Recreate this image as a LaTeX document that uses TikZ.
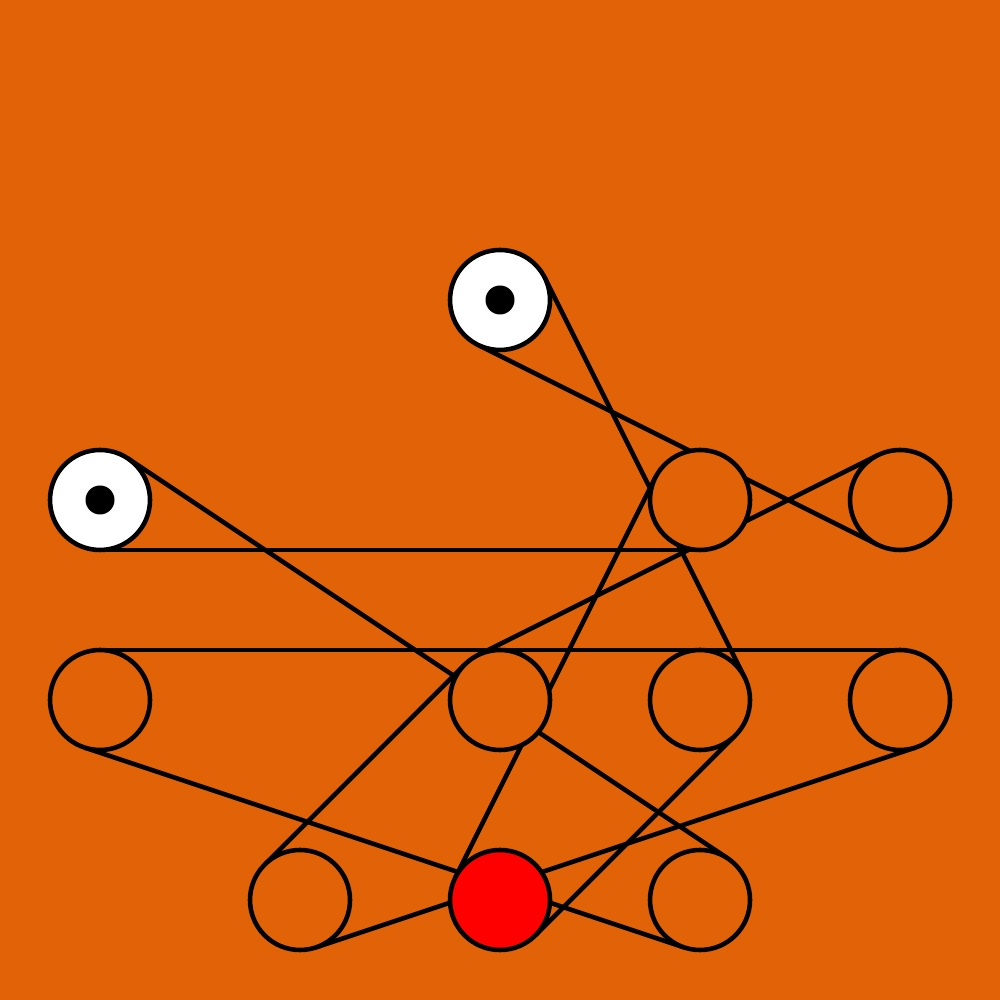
\documentclass[tikz,border=0pt]{standalone}
\usetikzlibrary{calc}
\definecolor{bgorange}{RGB}{226,98,8}
\pgfdeclarelayer{bglayer}
\pgfdeclarelayer{beltlayer}
\pgfsetlayers{bglayer,beltlayer,main}
\tikzset{
  pulley/.style={circle, draw=black, line width=1.3pt, fill=bgorange, minimum size=1cm, inner sep=0pt, outer sep=0pt},
  idler/.style={pulley, fill=white},
  driver/.style={pulley, fill=red},
  hub/.style={circle, fill=black, minimum size=0.29cm, inner sep=0pt, outer sep=0pt},
  belt/.style={draw=black, line width=1.3pt}
}
\begin{document}
\begin{tikzpicture}
\useasboundingbox (0,0) rectangle (10,10);
\begin{pgfonlayer}{bglayer}
  \fill[bgorange] (0,0) rectangle (10,10);
\end{pgfonlayer}
% pulleys
\node[idler] (p1) at (5,7) {};
\node[idler] (p2) at (1,5) {};
\node[pulley] (p3) at (7,5) {};
\node[pulley] (p4) at (9,5) {};
\node[pulley] (p5) at (1,3) {};
\node[pulley] (p6) at (5,3) {};
\node[pulley] (p7) at (7,3) {};
\node[pulley] (p8) at (9,3) {};
\node[pulley] (p9) at (3,1) {};
\node[driver] (p10) at (5,1) {};
\node[pulley] (p11) at (7,1) {};
\node[hub] (h1) at (p1.center) {};
\node[hub] (h2) at (p2.center) {};
% belts (tangent segments)
\begin{pgfonlayer}{beltlayer}
  \draw[belt] ($(p1.center)!0.5cm!-90:(p4.center)$) -- ($(p4.center)!0.5cm!90:(p1.center)$);
  \draw[belt] ($(p1.center)!0.5cm!90:(p7.center)$) -- ($(p7.center)!0.5cm!-90:(p1.center)$);
  \draw[belt] ($(p4.center)!0.5cm!-90:(p6.center)$) -- ($(p6.center)!0.5cm!90:(p4.center)$);
  \draw[belt] ($(p2.center)!0.5cm!-90:(p3.center)$) -- ($(p3.center)!0.5cm!90:(p2.center)$);
  \draw[belt] ($(p2.center)!0.5cm!90:(p11.center)$) -- ($(p11.center)!0.5cm!-90:(p2.center)$);
  \draw[belt] ($(p3.center)!0.5cm!-90:(p10.center)$) -- ($(p10.center)!0.5cm!90:(p3.center)$);
  \draw[belt] ($(p5.center)!0.5cm!90:(p8.center)$) -- ($(p8.center)!0.5cm!-90:(p5.center)$);
  \draw[belt] ($(p5.center)!0.5cm!-90:(p11.center)$) -- ($(p11.center)!0.5cm!90:(p5.center)$);
  \draw[belt] ($(p9.center)!0.5cm!90:(p6.center)$) -- ($(p6.center)!0.5cm!-90:(p9.center)$);
  \draw[belt] ($(p7.center)!0.5cm!90:(p10.center)$) -- ($(p10.center)!0.5cm!-90:(p7.center)$);
  \draw[belt] ($(p8.center)!0.5cm!90:(p9.center)$) -- ($(p9.center)!0.5cm!-90:(p8.center)$);
\end{pgfonlayer}
\end{tikzpicture}
\end{document}
